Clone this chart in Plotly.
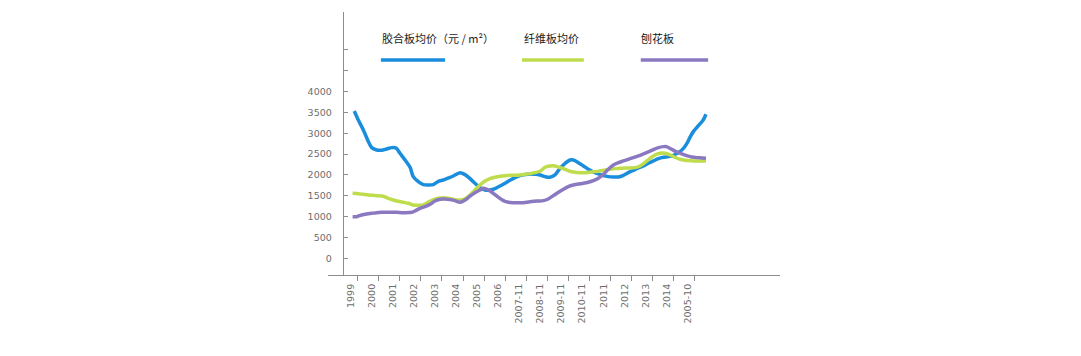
import plotly.graph_objects as go

# ---- data ----
categories = ["1999", "2000", "2001", "2002", "2003", "2004", "2005", "2006",
              "2007-11", "2008-11", "2009-11", "2010-11", "2011", "2012",
              "2013", "2014", "2005-10"]
cat_pos = list(range(len(categories)))
tick_bounds = [i + 0.333 for i in cat_pos]

y_tickvals = [0, 500, 1000, 1500, 2000, 2500, 3000, 3500, 4000, 4500, 5000]
y_ticktext = ["0", "500", "1000", "1500", "2000", "2500", "3000", "3500", "4000", "", ""]

series_names = ["胶合板均价（元 / m²）", "纤维板均价", "刨花板"]

plywood_x = [0.17, 0.36, 0.60, 0.84, 1.00, 1.23, 1.47, 1.71, 1.95, 2.15, 2.34, 2.58, 2.82, 2.97, 3.21,
             3.45, 3.69, 3.92, 4.16, 4.40, 4.64, 4.87, 5.19, 5.43, 5.67, 5.90, 6.14, 6.38, 6.61, 6.85,
             7.09, 7.33, 7.56, 7.80, 8.04, 8.28, 8.51, 8.75, 8.99, 9.23, 9.46, 9.70, 9.94, 10.18, 10.41,
             10.57, 10.81, 11.05, 11.28, 11.52, 11.76, 12.00, 12.23, 12.47, 12.71, 12.95, 13.18, 13.42,
             13.66, 13.90, 14.13, 14.37, 14.61, 14.85, 15.08, 15.32, 15.56, 15.79, 15.95, 16.11, 16.27,
             16.51, 16.74, 16.87]
plywood_y = [3536, 3320, 3080, 2800, 2656, 2600, 2592, 2624, 2656, 2648, 2520, 2360, 2184, 1960, 1840,
             1768, 1760, 1768, 1848, 1880, 1928, 1976, 2056, 2008, 1912, 1800, 1696, 1640, 1640, 1672,
             1736, 1800, 1872, 1936, 1984, 2008, 2024, 2016, 2000, 1960, 1944, 2000, 2160, 2280, 2360,
             2360, 2296, 2216, 2136, 2072, 2024, 1984, 1960, 1952, 1952, 1992, 2056, 2112, 2168, 2216,
             2280, 2336, 2392, 2424, 2440, 2472, 2536, 2632, 2744, 2904, 3040, 3184, 3320, 3456]

fiber_x = [0.09, 0.36, 0.60, 0.84, 1.07, 1.31, 1.55, 1.79, 2.02, 2.26, 2.50, 2.74, 2.97, 3.21, 3.45,
           3.69, 3.92, 4.16, 4.40, 4.64, 4.87, 5.11, 5.35, 5.51, 5.67, 5.90, 6.14, 6.38, 6.61, 6.85,
           7.09, 7.33, 7.56, 7.80, 8.04, 8.28, 8.51, 8.75, 8.99, 9.23, 9.46, 9.70, 9.94, 10.18, 10.41,
           10.65, 10.89, 11.13, 11.36, 11.60, 11.84, 12.08, 12.31, 12.55, 12.79, 13.03, 13.26, 13.50,
           13.74, 13.97, 14.21, 14.45, 14.69, 14.92, 15.16, 15.40, 15.64, 15.87, 16.11, 16.35, 16.59, 16.87]
fiber_y = [1560, 1552, 1536, 1520, 1512, 1504, 1488, 1440, 1400, 1368, 1344, 1320, 1280, 1272, 1280,
           1352, 1408, 1440, 1456, 1440, 1416, 1400, 1416, 1456, 1520, 1640, 1760, 1856, 1912, 1944,
           1968, 1984, 1992, 1992, 2000, 2016, 2032, 2056, 2088, 2184, 2216, 2216, 2176, 2136, 2088,
           2064, 2056, 2056, 2064, 2080, 2096, 2120, 2136, 2152, 2160, 2168, 2168, 2176, 2216, 2296,
           2400, 2480, 2520, 2520, 2480, 2424, 2376, 2352, 2344, 2336, 2336, 2336]

particle_x = [0.09, 0.28, 0.52, 0.76, 1.00, 1.23, 1.47, 1.71, 1.95, 2.18, 2.42, 2.66, 2.90, 3.05, 3.29,
              3.53, 3.77, 4.00, 4.24, 4.48, 4.72, 4.95, 5.19, 5.43, 5.67, 5.90, 6.14, 6.30, 6.54, 6.77,
              7.01, 7.25, 7.49, 7.72, 7.96, 8.20, 8.44, 8.67, 8.91, 9.15, 9.38, 9.62, 9.86, 10.10, 10.33,
              10.57, 10.81, 11.05, 11.28, 11.52, 11.76, 12.00, 12.23, 12.47, 12.71, 12.95, 13.18, 13.42,
              13.66, 13.90, 14.13, 14.37, 14.61, 14.85, 15.00, 15.24, 15.48, 15.72, 15.95, 16.19, 16.43,
              16.67, 16.87]
particle_y = [1000, 1000, 1040, 1064, 1080, 1096, 1104, 1104, 1104, 1104, 1096, 1096, 1104, 1136, 1200,
              1240, 1296, 1376, 1416, 1424, 1408, 1384, 1344, 1400, 1496, 1576, 1640, 1680, 1640, 1560,
              1464, 1384, 1344, 1336, 1336, 1336, 1352, 1368, 1376, 1384, 1424, 1504, 1584, 1656, 1720,
              1760, 1784, 1800, 1824, 1864, 1920, 2016, 2136, 2240, 2296, 2336, 2376, 2416, 2456, 2504,
              2552, 2608, 2656, 2680, 2680, 2616, 2552, 2504, 2464, 2432, 2416, 2408, 2400]

colors = ["#1a8ddc", "#bfdc4c", "#8a78c0"]

# ---- figure ----
fig = go.Figure()
for name, xs, ys, c in zip(series_names,
                           [plywood_x, fiber_x, particle_x],
                           [plywood_y, fiber_y, particle_y], colors):
    fig.add_trace(go.Scatter(x=xs, y=ys, mode="lines", name=name,
                             line=dict(color=c, width=3.5, shape="spline", smoothing=0.8),
                             showlegend=False, hoverinfo="skip"))

# invisible trace to carry the secondary x axis (category boundary ticks)
fig.add_trace(go.Scatter(x=tick_bounds, y=[None] * len(tick_bounds), xaxis="x2",
                         mode="lines", showlegend=False, hoverinfo="skip"))

axis_color = "#8c8c8c"
tick_font = dict(family="DejaVu Sans", size=9.5, color="#6e6e6e")

fig.update_layout(
    width=1081, height=356,
    margin=dict(l=320, r=309, t=4, b=89),
    paper_bgcolor="white", plot_bgcolor="white",
    xaxis=dict(range=[-1.078, 20.385], tickvals=cat_pos, ticktext=categories,
               tickangle=-90, ticks="", showgrid=False, zeroline=False,
               showline=True, linecolor=axis_color, linewidth=1,
               tickfont=tick_font, ticklabelstandoff=4),
    xaxis2=dict(overlaying="x", matches="x", anchor="y", side="bottom",
                tickvals=tick_bounds, ticks="outside", ticklen=5, tickcolor=axis_color,
                showticklabels=False, showgrid=False, zeroline=False, showline=False),
    yaxis=dict(range=[-400, 5910], anchor="free", position=0.0325,
               tickvals=y_tickvals, ticktext=y_ticktext, ticks="inside", ticklen=4,
               tickcolor=axis_color, showgrid=False, zeroline=False,
               showline=True, linecolor=axis_color, linewidth=1,
               tickfont=tick_font, ticklabelstandoff=9),
)

# in-chart legend (text above, line sample below)
legend_text_x = [0.115, 0.430, 0.689]
legend_line_x = [(0.117, 0.259), (0.429, 0.566), (0.692, 0.841)]
for name, tx, (x0, x1), c in zip(series_names, legend_text_x, legend_line_x, colors):
    fig.add_annotation(x=tx, y=0.901, xref="paper", yref="paper", text=name,
                       showarrow=False, xanchor="left", yanchor="middle",
                       font=dict(family="Noto Sans CJK SC", size=11, color="#1a1a1a"))
    fig.add_shape(type="line", xref="paper", yref="paper", x0=x0, x1=x1, y0=0.8175, y1=0.8175,
                  line=dict(color=c, width=3.5))

fig.write_html("out.html")
